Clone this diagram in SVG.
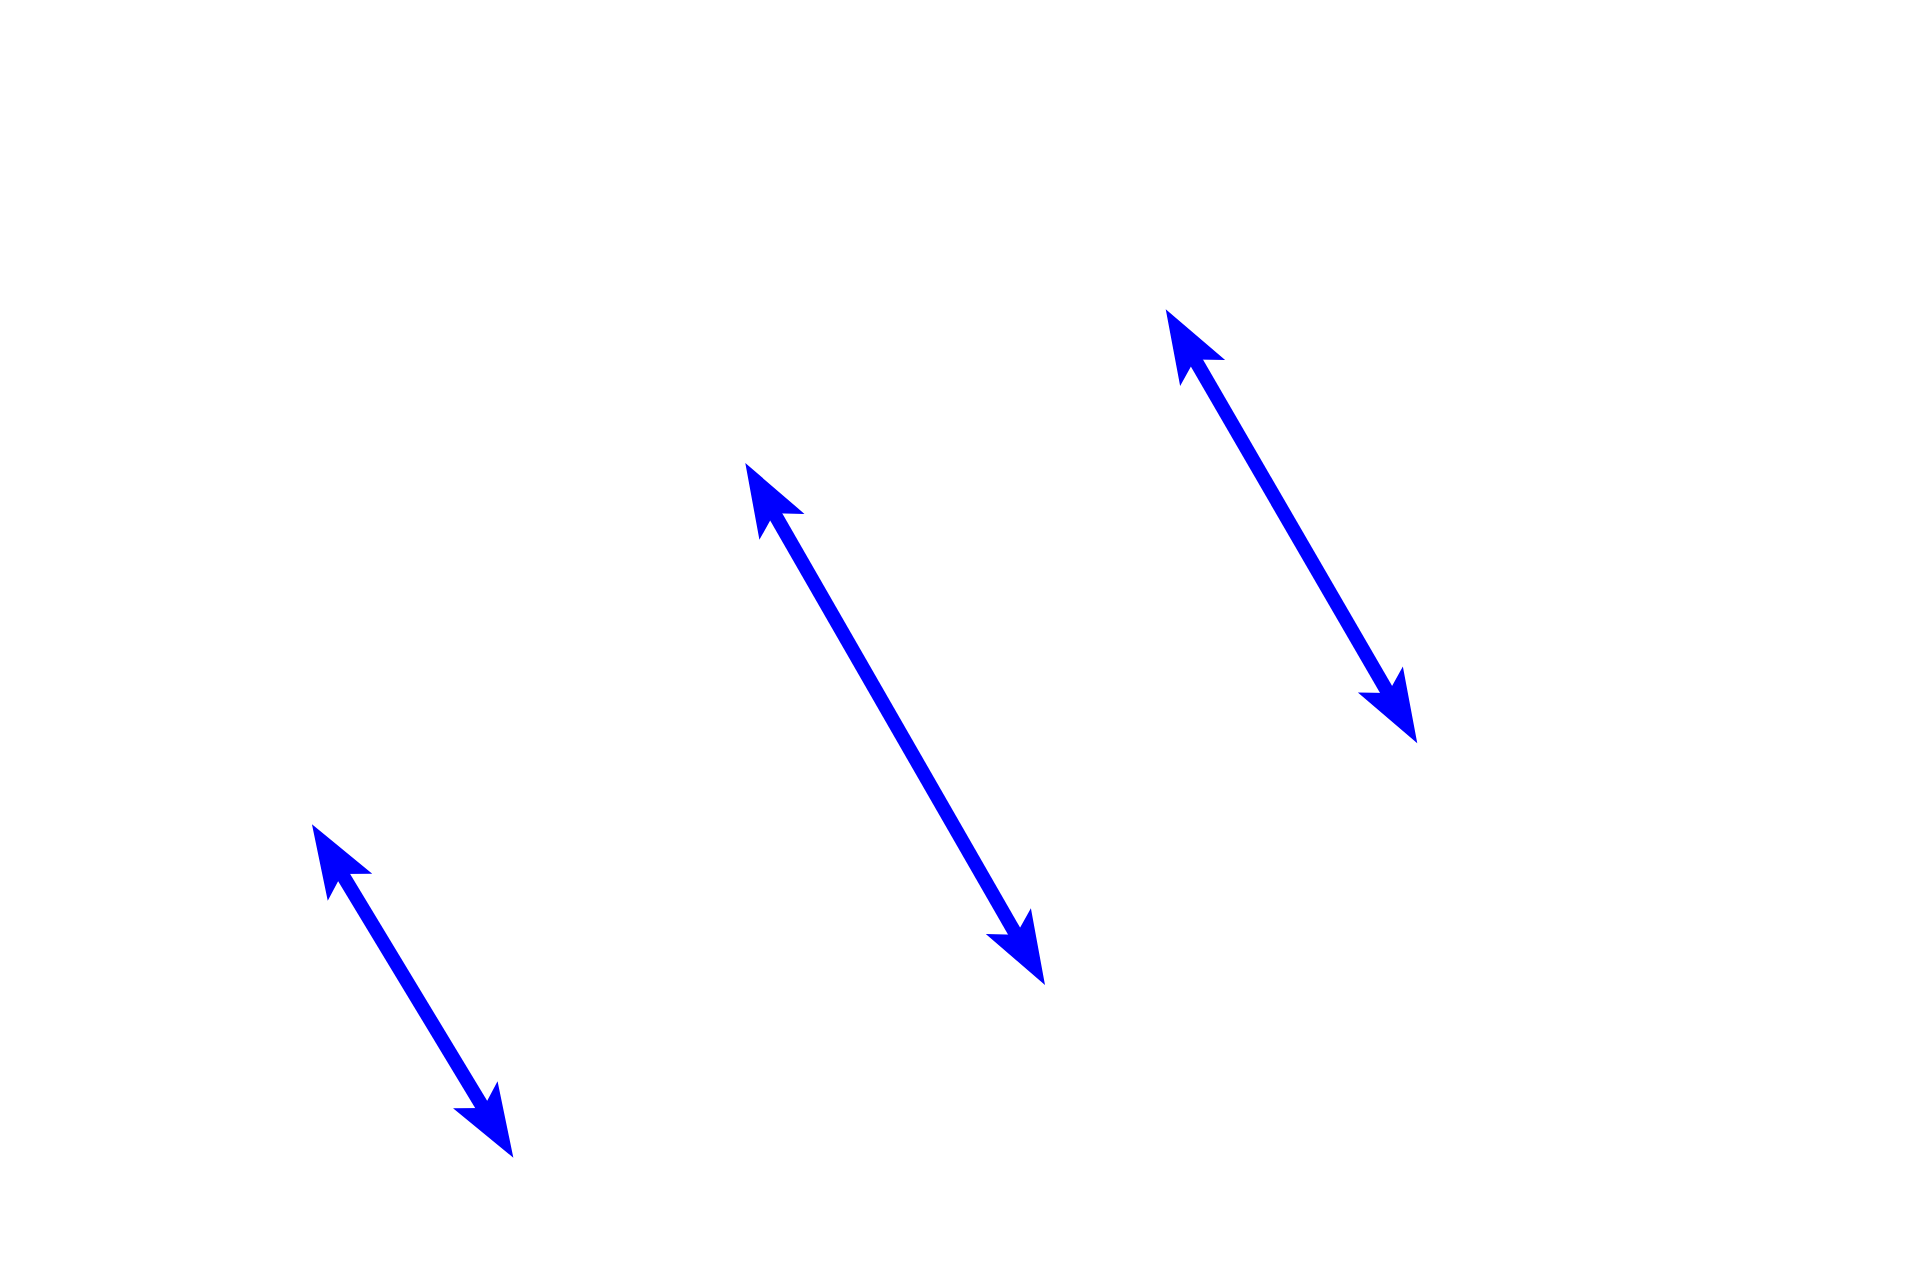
<svg xmlns="http://www.w3.org/2000/svg" width="1920" height="1280" viewBox="0 0 1920 1280">
  <style>
    .conn { stroke: #0000FF; stroke-width: 14; fill: none; marker-start: url(#head); marker-end: url(#head); }
  </style>
  <defs>
    <marker id="head" markerUnits="userSpaceOnUse" orient="auto-start-reverse" markerWidth="200" markerHeight="200" refX="0" refY="0" overflow="visible" viewBox="-100 -100 200 200">
      <path d="M50,0 L-23.6,-26 L-8,0 L-23.6,26 Z" fill="#0000FF"/>
    </marker>
  </defs>
  <rect x="0" y="0" width="1920" height="1280" fill="#FFFFFF"/>
  <g id="connectors">
    <line id="arrow1" class="conn" x1="337.8" y1="867.1" x2="487.5" y2="1114.9"/>
    <line id="arrow2" class="conn" x1="770.2" y1="506.4" x2="1020.1" y2="941.6"/>
    <line id="arrow3" class="conn" x1="1190.8" y1="352.6" x2="1392.2" y2="700.0"/>
  </g>
</svg>
